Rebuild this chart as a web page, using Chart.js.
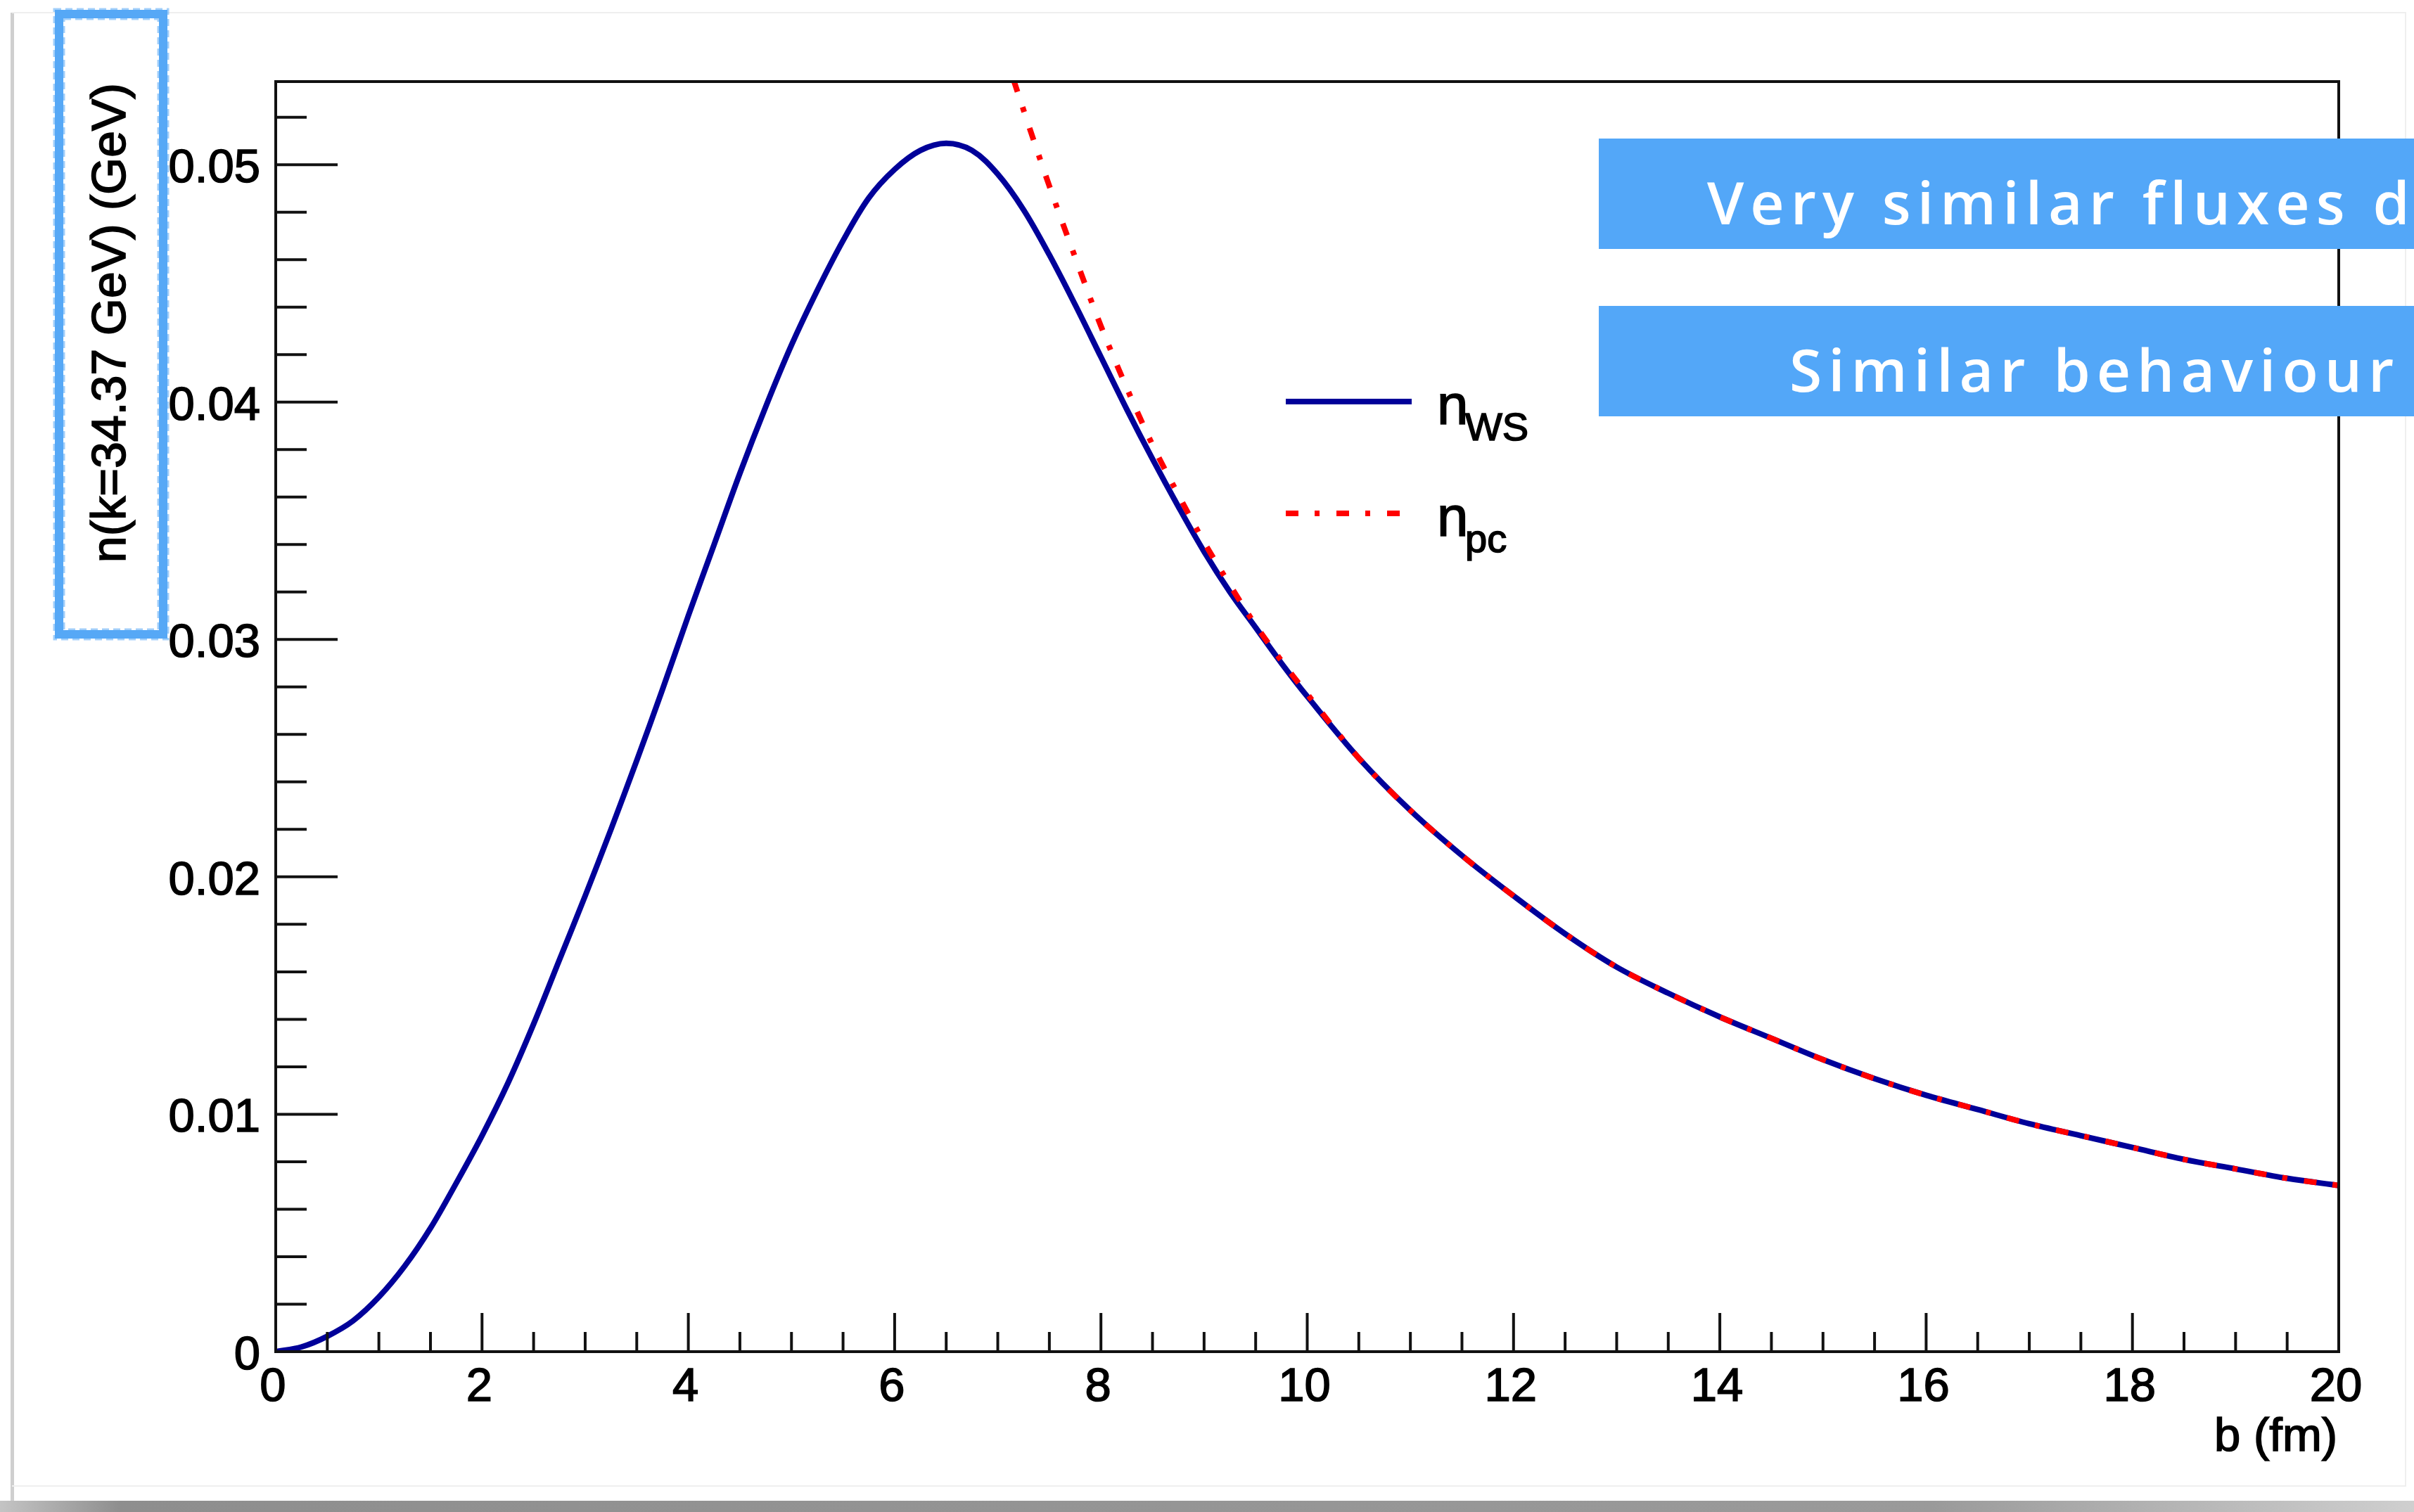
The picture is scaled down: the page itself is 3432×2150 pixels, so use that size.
<!DOCTYPE html>
<html>
<head>
<meta charset="utf-8">
<title>n(k=34.37 GeV) vs b</title>
<script src="https://cdn.jsdelivr.net/npm/chart.js@4.4.1/dist/chart.umd.min.js"></script>
<style>
  html, body { margin: 0; padding: 0; background: #fff; }
  #wrap { position: relative; width: 3432px; height: 2150px; overflow: hidden; }
  #fluxChart { position: absolute; left: 0; top: 0; }
  .banner {
    position: absolute; left: 2273px; width: 1300px; height: 157px;
    background: #53a7f8; overflow: hidden;
  }
  .banner span {
    position: absolute; top: 48px; color: #fff; white-space: nowrap;
    font-family: "Open Sans", sans-serif; font-weight: 600; font-size: 84px; line-height: 1;
    letter-spacing: 9px;
  }
</style>
</head>
<body>
<div id="wrap">
  <canvas id="fluxChart" width="3432" height="2150"></canvas>
  <div class="banner" style="top:197px"><span style="left:154px">Very similar fluxes d</span></div>
  <div class="banner" style="top:435px"><span style="left:271px">Similar behaviour</span></div>
</div>
<script>
// impact parameter b (fm) and photon flux n(k) for the Woods-Saxon form factor
const bWS = [0, 0.25, 0.5, 0.75, 1, 1.25, 1.5, 1.75, 2, 2.25, 2.5, 2.75, 3, 3.25, 3.5, 3.75,
  4, 4.25, 4.5, 4.75, 5, 5.25, 5.5, 5.75, 6, 6.25, 6.5, 6.75, 7, 7.25, 7.5, 7.75,
  8, 8.25, 8.5, 8.75, 9, 9.25, 9.5, 9.75, 10, 10.5, 11, 11.5, 12, 12.5, 13, 13.5,
  14, 14.5, 15, 15.5, 16, 16.5, 17, 17.5, 18, 18.5, 19, 19.5, 20];
const nWS = [0, 0.0002, 0.00065, 0.0013, 0.0023, 0.0036, 0.0052, 0.0071, 0.0091, 0.0113, 0.0138, 0.0165, 0.0192, 0.0220, 0.0249, 0.0279,
  0.0310, 0.0340, 0.0370, 0.0398, 0.0424, 0.0447, 0.0468, 0.0486, 0.0498, 0.0506, 0.0509, 0.0506, 0.0496, 0.0481, 0.0462, 0.0441,
  0.0419, 0.0397, 0.0376, 0.0356, 0.0337, 0.0320, 0.0305, 0.0290, 0.0276, 0.0250, 0.0228, 0.0209, 0.0192, 0.0176, 0.0162, 0.0151,
  0.0141, 0.0132, 0.0123, 0.0115, 0.0108, 0.0102, 0.0096, 0.0091, 0.0086, 0.0081, 0.0077, 0.0073, 0.0070];

// point-charge flux (diverges at small b, leaves the frame above b ~ 7.2)
const bPC = [7, 7.25, 7.5, 7.75, 8, 8.25, 8.5, 8.75, 9, 9.25, 9.5, 9.75, 10, 10.5, 11, 11.5, 12, 12.5, 13, 13.5,
  14, 14.5, 15, 15.5, 16, 16.5, 17, 17.5, 18, 18.5, 19, 19.5, 20];
const nPC = [0.0556, 0.0523, 0.0491, 0.0461, 0.0432, 0.0406, 0.0382, 0.0361, 0.0341, 0.0323, 0.0306, 0.0291, 0.0277, 0.0250, 0.0228, 0.0209, 0.0192, 0.0176, 0.0162, 0.0151,
  0.0141, 0.0132, 0.0123, 0.0115, 0.0108, 0.0102, 0.0096, 0.0091, 0.0086, 0.0081, 0.0077, 0.0073, 0.0070];

// axis tick labels
const xTickLabels = ['0', '2', '4', '6', '8', '10', '12', '14', '16', '18', '20'];
const yTickLabels = ['0', '0.01', '0.02', '0.03', '0.04', '0.05'];

const BLUE = '#000099';
const RED = '#ff0000';
const FONT = '"Liberation Sans", Arial, sans-serif';

// ROOT-like frame: inward ticks, labels, titles, legend
const rootFrame = {
  id: 'rootFrame',
  beforeDraw(chart) {
    const ctx = chart.ctx;
    ctx.save();
    ctx.fillStyle = '#fff';
    ctx.fillRect(0, 0, chart.width, chart.height);
    // slide edges
    ctx.fillStyle = '#cfcfcf';
    ctx.fillRect(15, 18, 5, 2116);
    ctx.fillStyle = '#efefef';
    ctx.fillRect(17, 17, 3404, 2);
    ctx.fillRect(3419, 17, 2, 2097);
    ctx.fillRect(17, 2112, 3404, 2);
    const g = ctx.createLinearGradient(0, 0, chart.width, 0);
    g.addColorStop(0, '#c4c4c4');
    g.addColorStop(0.05, '#8e8e8e');
    g.addColorStop(0.8, '#9a9a9a');
    g.addColorStop(1, '#cfcfcf');
    ctx.fillStyle = g;
    ctx.fillRect(0, 2134, chart.width, 16);
    // highlight box round the y title (rough double stroke)
    ctx.strokeStyle = '#56a8f6';
    ctx.lineWidth = 12;
    ctx.strokeRect(84, 20, 148, 882);
    ctx.strokeStyle = 'rgba(86,168,246,0.55)';
    ctx.lineWidth = 3;
    ctx.setLineDash([10, 6]);
    ctx.strokeRect(77, 13, 162, 896);
    ctx.strokeRect(91, 27, 134, 868);
    ctx.setLineDash([]);
    ctx.restore();
  },
  afterDatasetsDraw(chart) {
    const ctx = chart.ctx;
    const xs = chart.scales.x, ys = chart.scales.y;
    const { left, right, top, bottom } = chart.chartArea;
    ctx.save();
    ctx.strokeStyle = '#111';
    ctx.lineWidth = 4;
    ctx.lineCap = 'butt';
    ctx.strokeRect(left, top, right - left, bottom - top);

    const seg = (x1, y1, x2, y2) => { ctx.beginPath(); ctx.moveTo(x1, y1); ctx.lineTo(x2, y2); ctx.stroke(); };

    // x ticks: minor every 0.5, major every 2
    for (let i = 1; i < 40; i++) {
      const px = xs.getPixelForValue(i * 0.5);
      seg(px, bottom, px, bottom - (i % 4 === 0 ? 55 : 28));
    }
    // y ticks: minor every 0.002, major every 0.01
    for (let i = 1; i * 0.002 <= ys.max + 1e-9; i++) {
      const py = ys.getPixelForValue(i * 0.002);
      seg(left, py, left + (i % 5 === 0 ? 88 : 44), py);
    }

    // heavier text like the ROOT Helvetica rendering
    const txt = (s, x, y) => { ctx.fillText(s, x, y); ctx.strokeText(s, x, y); };
    ctx.fillStyle = '#000';
    ctx.strokeStyle = '#000';
    ctx.lineWidth = 1.6;
    ctx.font = '67px ' + FONT;
    ctx.textBaseline = 'alphabetic';
    ctx.textAlign = 'center';
    xTickLabels.forEach(t => txt(t, xs.getPixelForValue(parseFloat(t)) - 4, bottom + 70));
    ctx.textAlign = 'right';
    yTickLabels.forEach(t => txt(t, left - 22, ys.getPixelForValue(parseFloat(t)) + 25));

    // axis titles
    ctx.textAlign = 'right';
    txt('b (fm)', right - 2, bottom + 141);
    ctx.save();
    ctx.translate(178, 118);
    ctx.rotate(-Math.PI / 2);
    ctx.font = '68px ' + FONT;
    ctx.textAlign = 'right';
    txt('n(k=34.37 GeV) (GeV)', 0, 0);
    ctx.restore();

    // legend
    const ds = chart.data.datasets;
    const entries = [
      { d: ds[1], y: 571, sub: 'WS' },
      { d: ds[0], y: 730, sub: 'pc' }
    ];
    entries.forEach(e => {
      ctx.strokeStyle = e.d.borderColor;
      ctx.lineWidth = e.d.borderWidth;
      ctx.setLineDash(e.d.borderDash || []);
      seg(1828, e.y, e.d.borderDash ? 1991 : 2007, e.y);
      ctx.setLineDash([]);
      ctx.strokeStyle = '#000';
      ctx.lineWidth = 1.6;
      ctx.textAlign = 'left';
      ctx.font = '80px ' + FONT;
      txt('n', 2043, e.y + 32);
      ctx.font = '56px ' + FONT;
      txt(e.sub, 2083, e.y + 55);
    });
    ctx.restore();
  }
};

const ctx = document.getElementById('fluxChart').getContext('2d');
const fluxChart = new Chart(ctx, {
  type: 'line',
  data: {
    datasets: [
      {
        label: 'n_pc',
        data: bPC.map((b, i) => ({ x: b, y: nPC[i] })),
        borderColor: RED,
        borderWidth: 8,
        borderDash: [18, 23, 7, 24],
        pointRadius: 0,
        tension: 0.35,
        clip: 0,
        order: 1
      },
      {
        label: 'n_WS',
        data: bWS.map((b, i) => ({ x: b, y: nWS[i] })),
        borderColor: BLUE,
        borderWidth: 8,
        pointRadius: 0,
        tension: 0.35,
        clip: 0,
        order: 2
      }
    ]
  },
  options: {
    responsive: false,
    devicePixelRatio: 1,
    animation: false,
    layout: { padding: { left: 392, top: 116, right: 107, bottom: 228 } },
    plugins: { legend: { display: false }, tooltip: { enabled: false } },
    scales: {
      x: { type: 'linear', min: 0, max: 20, display: false },
      y: { type: 'linear', min: 0, max: 0.0535, display: false }
    }
  },
  plugins: [rootFrame]
});
</script>
</body>
</html>
